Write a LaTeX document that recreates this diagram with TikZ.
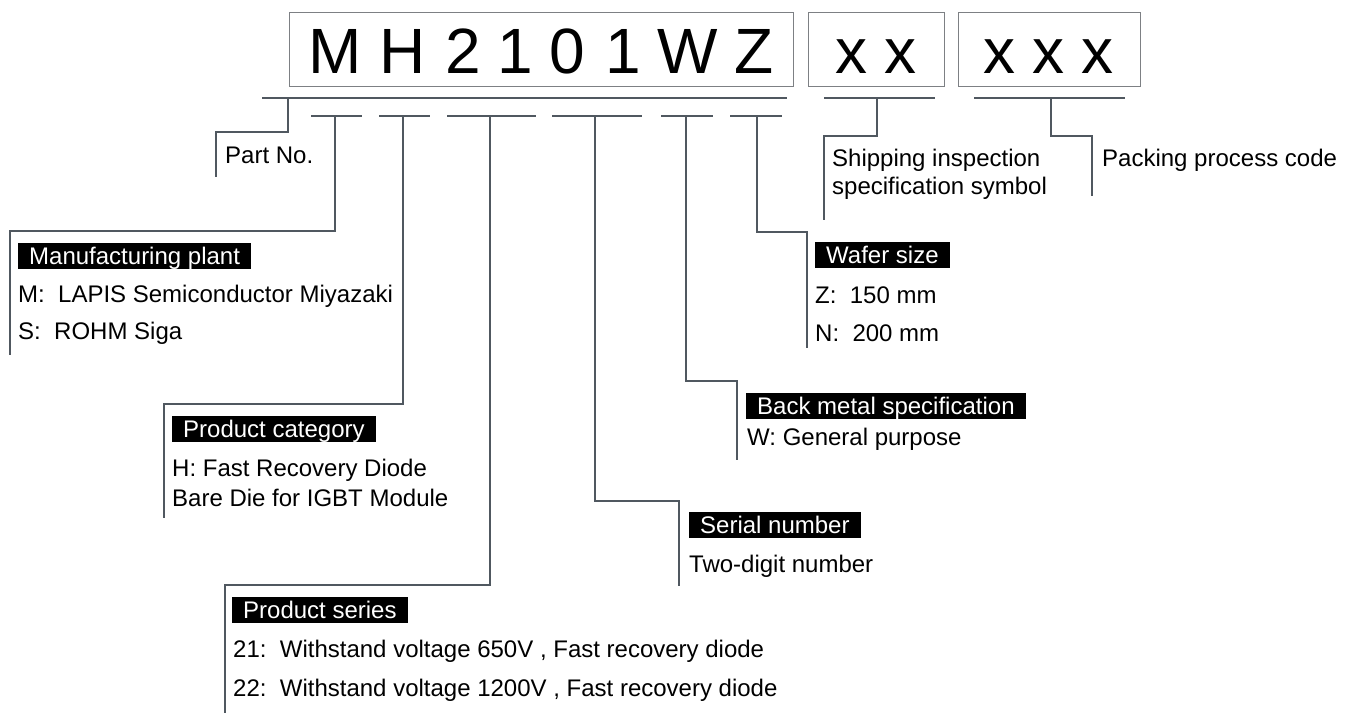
\documentclass[tikz,border=0pt]{standalone}
\usepackage{fontspec}
\setmainfont{Liberation Sans}
\definecolor{lc}{RGB}{80,88,96}
\definecolor{bc}{RGB}{125,128,132}
\begin{document}
\begin{tikzpicture}[x=1pt,y=-1pt,
  conn/.style={draw=lc, line width=2.6pt},
  codebox/.style={draw=bc, line width=1.2pt, inner sep=0pt, anchor=north west},
  big/.style={font=\fontsize{64}{70}\selectfont, inner sep=0pt, anchor=base},
  lbl/.style={font=\fontsize{24}{28}\selectfont, inner sep=0pt, anchor=base west},
  hdr/.style={lbl, fill=black, text=white, inner xsep=11pt, inner ysep=0pt, text height=21.6pt, text depth=4.6pt}]
\useasboundingbox (0,0) rectangle (1347,713);
% code boxes
\node[codebox, minimum width=504pt, minimum height=74pt] (b1) at (289,12) {};
\node[codebox, minimum width=136pt, minimum height=74pt] (b2) at (808,12) {};
\node[codebox, minimum width=182pt, minimum height=74pt] (b3) at (958,12) {};
% characters
\node[big] (cM) at (335,73) {M};
\node[big] (cH) at (403,73) {H};
\node[big] (c2) at (463,73) {2};
\node[big] (c1) at (515,73) {1};
\node[big] (c0) at (567,73) {0};
\node[big] (c1b) at (623,73) {1};
\node[big] (cW) at (688,73) {W};
\node[big] (cZ) at (754,73) {Z};
\node[big] (x1) at (851,73) {x};
\node[big] (x2) at (900,73) {x};
\node[big] (x3) at (999,73) {x};
\node[big] (x4) at (1048,73) {x};
\node[big] (x5) at (1097,73) {x};
% underline coordinates
\coordinate (u1l) at (262,98);  \coordinate (u1r) at (787,98);
\coordinate (u2l) at (824,98);  \coordinate (u2r) at (935,98);
\coordinate (u3l) at (974,98);  \coordinate (u3r) at (1125,98);
\draw[conn] (u1l) -- (u1r);
\draw[conn] (u2l) -- (u2r);
\draw[conn] (u3l) -- (u3r);
% short segments
\foreach \a/\b/\n in {311/362/1,379/430/2,447/536/3,552/642/4,661/713/5,730/782/6}{
  \coordinate (sl\n) at (\a,116); \coordinate (sr\n) at (\b,116);
  \draw[conn] (sl\n) -- (sr\n);
}
% stems
\coordinate (pn0) at (288,98);  \coordinate (pn1) at (216,132);  \coordinate (pn2) at (216,177);
\coordinate (mp0) at (335,116); \coordinate (mp1) at (10,231);   \coordinate (mp2) at (10,355);
\coordinate (pc0) at (403,116); \coordinate (pc1) at (164,404);  \coordinate (pc2) at (164,518);
\coordinate (ps0) at (490,116); \coordinate (ps1) at (225,585);  \coordinate (ps2) at (225,713);
\coordinate (sn0) at (595,116); \coordinate (sn1) at (679,501);  \coordinate (sn2) at (679,586);
\coordinate (bm0) at (686,116); \coordinate (bm1) at (737,381);  \coordinate (bm2) at (737,460);
\coordinate (ws0) at (757,116); \coordinate (ws1) at (807,232);  \coordinate (ws2) at (807,348);
\coordinate (si0) at (877,98);  \coordinate (si1) at (824,136);  \coordinate (si2) at (824,220);
\coordinate (pk0) at (1051,98); \coordinate (pk1) at (1092,136); \coordinate (pk2) at (1092,196);
\foreach \k in {pn,mp,pc,ps,sn,bm,ws,si,pk}{
  \draw[conn] (\k0) |- (\k1) -- (\k2);
}
% labels
\node[lbl] (tpn) at (225,163.6) {Part No.};
\node[hdr] (hmp) at (18,264.1) {Manufacturing plant};
\node[lbl] (tmp1) at (18,302.6) {M:\ \ LAPIS Semiconductor Miyazaki};
\node[lbl] (tmp2) at (18,339.6) {S:\ \ ROHM Siga};
\node[hdr] (hpc) at (172,437.1) {Product category};
\node[lbl] (tpc1) at (172,476.6) {H: Fast Recovery Diode};
\node[lbl] (tpc2) at (172,506.6) {Bare Die for IGBT Module};
\node[hdr] (hps) at (232,618.6) {Product series};
\node[lbl] (tps1) at (233,657.6) {21:\ \ Withstand voltage 650V , Fast recovery diode};
\node[lbl] (tps2) at (233,696.6) {22:\ \ Withstand voltage 1200V , Fast recovery diode};
\node[hdr] (hsn) at (689,533.1) {Serial number};
\node[lbl] (tsn) at (689,572.6) {Two-digit number};
\node[hdr] (hbm) at (746,414.1) {Back metal specification};
\node[lbl] (tbm) at (747,445.6) {W: General purpose};
\node[hdr] (hws) at (815,263.1) {Wafer size};
\node[lbl] (tws1) at (815,303.6) {Z:\ \ 150 mm};
\node[lbl] (tws2) at (815,341.6) {N:\ \ 200 mm};
\node[lbl] (tsi1) at (832,166.1) {Shipping inspection};
\node[lbl] (tsi2) at (832,194.6) {specification symbol};
\node[lbl] (tpk) at (1102,166.1) {Packing process code};
\end{tikzpicture}
\end{document}
